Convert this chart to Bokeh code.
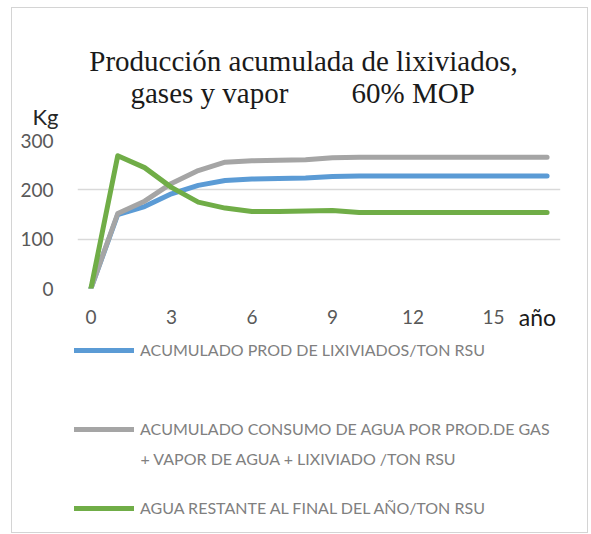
from bokeh.plotting import figure
from bokeh.layouts import column, row
from bokeh.models import Range1d, FixedTicker, Label, Legend, LegendItem, InlineStyleSheet, LinearAxis
from bokeh.embed import file_html
from bokeh.resources import INLINE

# ---- data ----
years = list(range(18))
lixiviados = [0, 150, 166, 192, 209, 219, 222, 223, 224, 227, 228, 228, 228, 228, 228, 228, 228, 228]
consumo = [0, 152, 177, 213, 239, 256, 259, 260, 261, 265, 266, 266, 266, 266, 266, 266, 266, 266]
restante = [0, 269, 245, 205, 175, 163, 156, 156, 157, 158, 154, 154, 154, 154, 154, 154, 154, 154]
x_ticks = [0, 3, 6, 9, 12, 15]
y_ticks = [0, 100, 200, 300]
title_1 = "Producción acumulada de lixiviados,"
title_2a = "gases y vapor"
title_2b = "60% MOP"
y_label = "Kg"
x_label = "año"
leg_lix = "ACUMULADO PROD DE LIXIVIADOS/TON RSU"
leg_con_1 = "ACUMULADO CONSUMO DE AGUA POR PROD.DE GAS"
leg_con_2 = "+ VAPOR DE AGUA + LIXIVIADO /TON RSU"
leg_res = "AGUA RESTANTE AL FINAL DEL AÑO/TON RSU"

C_LIX, C_CON, C_RES = "#5b9bd5", "#a5a5a5", "#70ad47"
LW = 5

# ---- geometry (pixels) ----
W = 575
OX, OY = 12, 8            # where the whole block starts
H_TOP, H_MAIN, H_LEG = 122, 206, 196
BASE_FIX = 9              # alphabetic-baseline correction of the svg text
XLABEL_POS = 16.64        # horizontal place of the x-axis title, in axis units
TFONT = "Liberation Serif"
TSIZE = "29px"
TICK_FONT = "Lato"
LFONT = "Lato"
LSIZE = "16px"
LCOLOR = "#808080"


def blank(height):
    f = figure(width=W, height=height, output_backend="svg", toolbar_location=None,
               x_axis_type=None, y_axis_type=None,
               x_range=Range1d(0, W), y_range=Range1d(height, 0),
               min_border=0, min_border_left=0, min_border_right=0,
               min_border_top=0, min_border_bottom=0)
    f.outline_line_color = None
    f.grid.visible = False
    f.background_fill_color = "white"
    f.border_fill_color = "white"
    return f


# ---- title block ----
pt = blank(H_TOP)
def ty(img_y):
    return img_y - OY - BASE_FIX
pt.add_layout(Label(x=303 - OX, y=ty(69), text=title_1, text_align="center", text_baseline="alphabetic",
                    text_font=TFONT, text_font_size=TSIZE, text_color="#1a1a1a"))
pt.add_layout(Label(x=130 - OX, y=ty(101), text=title_2a, text_align="left", text_baseline="alphabetic",
                    text_font=TFONT, text_font_size=TSIZE, text_color="#1a1a1a"))
pt.add_layout(Label(x=351 - OX, y=ty(101), text=title_2b, text_align="left", text_baseline="alphabetic",
                    text_font=TFONT, text_font_size=TSIZE, text_color="#1a1a1a"))
pt.add_layout(Label(x=32 - OX, y=ty(125), text=y_label, text_align="left", text_baseline="alphabetic",
                    text_font=TICK_FONT, text_font_size="22px", text_color="#262626"))

# ---- main chart ----
p = figure(width=W, height=H_MAIN, output_backend="svg", toolbar_location=None,
           x_range=Range1d(-0.5, 17.5), y_range=Range1d(0, 300),
           min_border_left=65, min_border_right=27, min_border_top=10, min_border_bottom=48)
p.outline_line_color = None
p.background_fill_color = "white"
p.border_fill_color = "white"
for ax in (p.xaxis[0], p.yaxis[0]):
    ax.axis_line_color = None
    ax.major_tick_line_color = None
    ax.minor_tick_line_color = None
    ax.major_label_text_font = TICK_FONT
    ax.major_label_text_font_size = "19px"
    ax.major_label_text_color = "#595959"
p.xaxis.ticker = FixedTicker(ticks=x_ticks)
p.yaxis.ticker = FixedTicker(ticks=y_ticks)
p.xaxis.major_label_standoff = 15
p.yaxis.major_label_standoff = 18
p.xgrid.grid_line_color = None
p.ygrid.ticker = FixedTicker(ticks=y_ticks)
p.ygrid.grid_line_color = "#d9d9d9"
p.ygrid.grid_line_width = 1.5

# axis title "año", set on the same row as the tick labels, right of "15"
title_axis = LinearAxis(ticker=FixedTicker(ticks=[XLABEL_POS]),
                        major_label_overrides={XLABEL_POS: x_label},
                        axis_line_color=None, major_tick_line_color=None, minor_tick_line_color=None,
                        major_label_standoff=-30,
                        major_label_text_font=TICK_FONT, major_label_text_font_size="23px",
                        major_label_text_color="#1a1a1a")
p.add_layout(title_axis, "below")

p.line(years, lixiviados, line_color=C_LIX, line_width=LW, line_join="round", line_cap="round")
p.line(years, consumo, line_color=C_CON, line_width=LW, line_join="round", line_cap="round")
p.line(years, restante, line_color=C_RES, line_width=LW, line_join="round", line_cap="round")

# ---- legend block ----
pl = blank(H_LEG)
LEG_TOP = OY + H_TOP + H_MAIN
# hidden copies of the series, only used to draw the legend swatches
s_lix = pl.line(years, lixiviados, line_color=C_LIX, line_width=LW, line_cap="round", visible=False)
s_con = pl.line(years, consumo, line_color=C_CON, line_width=LW, line_cap="round", visible=False)
s_res = pl.line(years, restante, line_color=C_RES, line_width=LW, line_cap="round", visible=False)

for label, rend, yc in ((leg_lix, s_lix, 351), (leg_con_1, s_con, 430), (leg_res, s_res, 509)):
    bottom = (LEG_TOP + H_LEG) - (yc + 8)
    lg = Legend(items=[LegendItem(label=label, renderers=[rend])],
                location=(74 - OX, bottom),
                glyph_width=60, glyph_height=16, label_height=16, label_standoff=6,
                padding=0, spacing=0, margin=0,
                border_line_alpha=0, background_fill_alpha=0,
                inactive_fill_alpha=0,
                label_text_font=LFONT, label_text_font_size=LSIZE, label_text_color=LCOLOR)
    pl.add_layout(lg, "center")
pl.add_layout(Label(x=140 - OX, y=458 - LEG_TOP, text=leg_con_2, text_align="left", text_baseline="middle",
                    text_font=LFONT, text_font_size=LSIZE, text_color=LCOLOR))

inner = column(pt, row(p), pl, spacing=0)
inner.stylesheets = [InlineStyleSheet(css=":host { outline: 1px solid #d4d4d4; }")]
layout = column(inner)
layout.margin = (OY, 0, 0, OX)

open("out.html", "w").write(file_html(layout, INLINE))
